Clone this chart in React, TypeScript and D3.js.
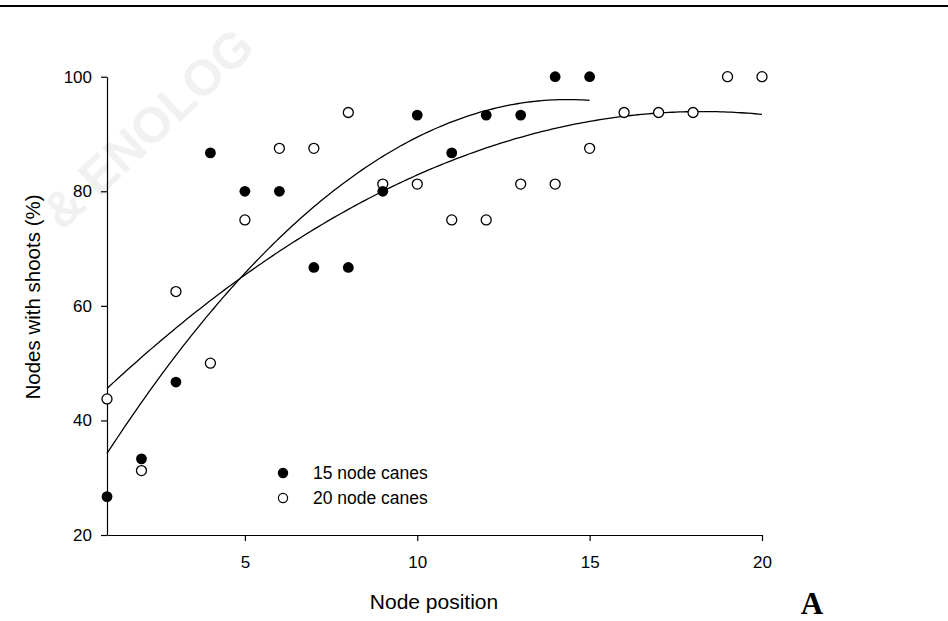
import { useEffect, useRef } from 'react';
import * as d3 from 'd3';

// node position (x) and % nodes with shoots for each cane length
const nodes15 = [1, 2, 3, 4, 5, 6, 7, 8, 9, 10, 11, 12, 13, 14, 15];
const shoots15 = [26.7, 33.3, 46.7, 86.7, 80, 80, 66.7, 66.7, 80, 93.3, 86.7, 93.3, 93.3, 100, 100];

const nodes20 = [1, 2, 3, 4, 5, 6, 7, 8, 9, 10, 11, 12, 13, 14, 15, 16, 17, 18, 19, 20];
const shoots20 = [43.75, 31.25, 62.5, 50, 75, 87.5, 87.5, 93.75, 81.25, 81.25, 75, 75, 81.25, 81.25, 87.5, 93.75, 93.75, 93.75, 100, 100];

const xTicks = [5, 10, 15, 20];
const yTicks = [20, 40, 60, 80, 100];
const legendLabels = ['15 node canes', '20 node canes'];

const W = 948;
const H = 621;
const FONT = '"Liberation Sans", Arial, Helvetica, sans-serif';

// second order polynomial least squares fit, returns y = a + b x + c x^2
function quadFit(xs: number[], ys: number[]) {
    const s = [0, 0, 0, 0, 0];
    const t = [0, 0, 0];
    xs.forEach((x, i) => {
        for (let k = 0; k < 5; k++) s[k] += Math.pow(x, k);
        for (let k = 0; k < 3; k++) t[k] += Math.pow(x, k) * ys[i];
    });
    const m = [
        [s[0], s[1], s[2], t[0]],
        [s[1], s[2], s[3], t[1]],
        [s[2], s[3], s[4], t[2]]
    ];
    for (let i = 0; i < 3; i++) {
        for (let j = i + 1; j < 3; j++) {
            const f = m[j][i] / m[i][i];
            for (let k = i; k < 4; k++) m[j][k] -= f * m[i][k];
        }
    }
    const c = [0, 0, 0];
    for (let i = 2; i >= 0; i--) {
        let v = m[i][3];
        for (let k = i + 1; k < 3; k++) v -= m[i][k] * c[k];
        c[i] = v / m[i][i];
    }
    return (x: number) => c[0] + c[1] * x + c[2] * x * x;
}

export default function App() {
    const svgRef = useRef<SVGSVGElement>(null);

    useEffect(() => {
        const svg = d3.select(svgRef.current);
        svg.selectAll('*').remove();

        const x = d3.scaleLinear().domain([1, 20]).range([107, 762]);
        const y = d3.scaleLinear().domain([20, 100]).range([535, 76.7]);

        // faint watermark behind the plot
        svg.append('text')
            .attr('transform', 'translate(62,232) rotate(-43)')
            .style('font-family', FONT)
            .style('font-weight', 'bold')
            .style('font-size', '50px')
            .style('fill', '#f1f1f1')
            .text('& ENOLOG');

        // rule at the top of the page
        svg.append('line')
            .attr('x1', 0).attr('x2', W)
            .attr('y1', 6).attr('y2', 6)
            .attr('stroke', '#000')
            .attr('stroke-width', 2.2);

        // Axes
        const yAxis = svg.append('g')
            .attr('transform', `translate(${x(1)},0)`)
            .call(d3.axisLeft(y).tickValues(yTicks).tickSize(6).tickSizeOuter(0).tickPadding(9));
        const xAxis = svg.append('g')
            .attr('transform', `translate(0,${y(20)})`)
            .call(d3.axisBottom(x).tickValues(xTicks).tickSize(6).tickSizeOuter(0).tickPadding(15));

        [xAxis, yAxis].forEach(a => {
            a.selectAll('path, line').attr('stroke', '#000').attr('stroke-width', 1.2);
            a.selectAll('text')
                .style('font-family', FONT)
                .style('font-size', '17px')
                .attr('fill', '#000');
        });

        // fitted quadratic curves
        const drawFit = (f: (v: number) => number, x1: number) => {
            const pts = d3.range(1, x1 + 0.001, 0.1);
            svg.append('path')
                .datum(pts)
                .attr('fill', 'none')
                .attr('stroke', '#000')
                .attr('stroke-width', 1.3)
                .attr('d', d3.line<number>().x(d => x(d)).y(d => y(f(d))));
        };
        drawFit(quadFit(nodes15, shoots15), 15);
        drawFit(quadFit(nodes20, shoots20), 20);

        // points
        svg.append('g').selectAll('circle')
            .data(nodes20)
            .enter().append('circle')
            .attr('cx', d => x(d))
            .attr('cy', (d, i) => y(shoots20[i]))
            .attr('r', 5)
            .attr('fill', '#fff')
            .attr('stroke', '#000')
            .attr('stroke-width', 1.3);

        svg.append('g').selectAll('circle')
            .data(nodes15)
            .enter().append('circle')
            .attr('cx', d => x(d))
            .attr('cy', (d, i) => y(shoots15[i]))
            .attr('r', 5.4)
            .attr('fill', '#000');

        // legend
        const legend = svg.append('g').attr('transform', 'translate(283,473)');
        legendLabels.forEach((label, i) => {
            const row = legend.append('g').attr('transform', `translate(0,${i * 25})`);
            row.append('circle')
                .attr('r', 4.6)
                .attr('fill', i === 0 ? '#000' : '#fff')
                .attr('stroke', '#000')
                .attr('stroke-width', 1.2);
            row.append('text')
                .attr('x', 30)
                .attr('y', 6)
                .style('font-family', FONT)
                .style('font-size', '17.5px')
                .text(label);
        });

        // Axes labels
        svg.append('text')
            .attr('transform', 'translate(40,297) rotate(-90)')
            .style('text-anchor', 'middle')
            .style('font-family', FONT)
            .style('font-size', '20.5px')
            .text('Nodes with shoots (%)');

        svg.append('text')
            .attr('x', 434)
            .attr('y', 609)
            .style('text-anchor', 'middle')
            .style('font-family', FONT)
            .style('font-size', '21px')
            .text('Node position');

        svg.append('text')
            .attr('x', 812)
            .attr('y', 614)
            .style('text-anchor', 'middle')
            .style('font-family', '"Liberation Serif", "Times New Roman", serif')
            .style('font-weight', 'bold')
            .style('font-size', '31px')
            .text('A');
    }, []);

    return (
        <svg
            ref={svgRef}
            width={W}
            height={H}
            style={{ position: 'absolute', left: 0, top: 0, background: '#fff' }}
        />
    );
}
